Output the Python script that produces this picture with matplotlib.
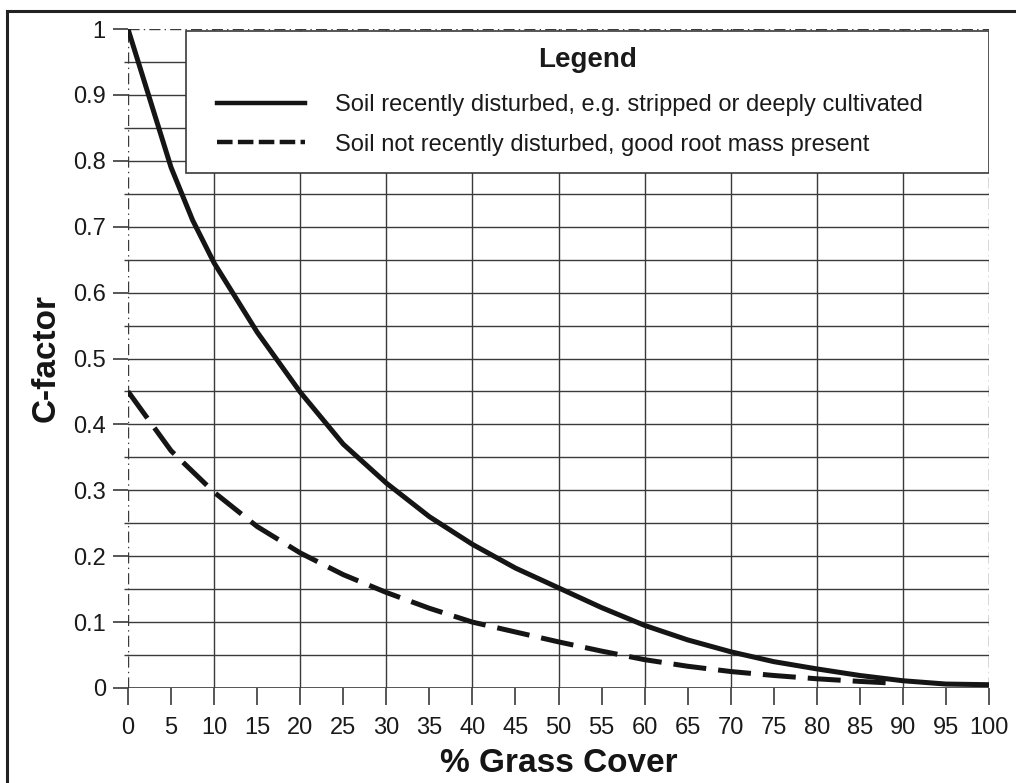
import matplotlib
matplotlib.use("Agg")
import matplotlib.pyplot as plt
from matplotlib.lines import Line2D
from matplotlib.patches import Rectangle
import numpy as np

plt.rcParams['font.family'] = ['Liberation Sans', 'DejaVu Sans']

# Data
grass_cover = [0, 2.5, 5, 7.5, 10, 15, 20, 25, 30, 35, 40, 45, 50, 55, 60, 65, 70, 75, 80, 85, 90, 95, 100]
c_disturbed = [1.0, 0.895, 0.79, 0.71, 0.645, 0.54, 0.449, 0.37, 0.311, 0.26, 0.218, 0.182, 0.152, 0.122,
               0.095, 0.073, 0.055, 0.040, 0.029, 0.019, 0.011, 0.006, 0.005]
grass_cover_nd = [0, 5, 10, 15, 20, 25, 30, 35, 40, 45, 50, 55, 60, 65, 70, 75, 80, 85, 88]
c_not_disturbed = [0.45, 0.36, 0.297, 0.245, 0.205, 0.172, 0.145, 0.121, 0.100, 0.085, 0.070,
                   0.056, 0.043, 0.033, 0.025, 0.019, 0.014, 0.010, 0.008]

x_ticks = list(range(0, 101, 5))
y_ticks = [0, 0.1, 0.2, 0.3, 0.4, 0.5, 0.6, 0.7, 0.8, 0.9, 1]
y_tick_labels = ['0', '0.1', '0.2', '0.3', '0.4', '0.5', '0.6', '0.7', '0.8', '0.9', '1']

legend_title = 'Legend'
label_disturbed = 'Soil recently disturbed, e.g. stripped or deeply cultivated'
label_not_disturbed = 'Soil not recently disturbed, good root mass present'

fig = plt.figure(figsize=(10.16, 7.83), dpi=100)
W, H = 1016, 783
ax = fig.add_axes([128 / W, 1 - 688 / H, (989 - 128) / W, (688 - 29) / H])
ax.set_xlim(0, 100)
ax.set_ylim(0, 1)

gc = '#3a3a3a'
tc = '#1a1a1a'
# grid
for yv in np.arange(0.05, 1.0, 0.05):
    ax.axhline(yv, color=gc, lw=1.0, zorder=1)
for xv in range(10, 100, 10):
    ax.axvline(xv, color=gc, lw=1.0, zorder=1)
ax.axhline(0, color=gc, lw=1.2, zorder=1)
ax.axhline(1, color=gc, lw=1.0, ls=(0, (8, 3, 1, 3)), zorder=1)
ax.axvline(0, color=gc, lw=1.0, ls=(0, (8, 3, 1, 3)), zorder=1)
ax.axvline(100, color=gc, lw=1.0, ls=(0, (8, 3, 1, 3)), zorder=1)

for s in ax.spines.values():
    s.set_visible(False)

ax.set_xticks(x_ticks)
ax.set_xticklabels([str(v) for v in x_ticks])
ax.set_yticks(y_ticks)
ax.set_yticklabels(y_tick_labels)
ax.set_yticks(np.arange(0.05, 1.0, 0.1), minor=True)
ax.tick_params(axis='x', direction='out', length=12, width=1.2, color=gc, pad=9, labelsize=17)
ax.tick_params(axis='y', which='major', direction='out', length=11, width=1.2, color=gc, pad=5, labelsize=17)
ax.tick_params(axis='y', which='minor', direction='out', length=3, width=1.0, color=gc)
for lab in ax.get_xticklabels() + ax.get_yticklabels():
    lab.set_color(tc)

ax.plot(grass_cover, c_disturbed, color='#151515', lw=3.6, solid_capstyle='butt', zorder=4)
ax.plot(grass_cover_nd, c_not_disturbed, color='#151515', lw=3.6, dashes=(6.6, 2.4), zorder=4)

# legend box
bx0, bx1 = (186 - 128) / 861, 1.0
by0, by1 = (688 - 173) / 659, (688 - 31) / 659
box = Rectangle((bx0, by0), bx1 - bx0, by1 - by0,
                transform=ax.transAxes, facecolor='white', edgecolor=gc, lw=1.2, zorder=5)
ax.add_patch(box)
ax.text((bx0 + bx1) / 2, (688 - 60) / 659, legend_title, transform=ax.transAxes,
        ha='center', va='center', fontsize=20, fontweight='bold', color=tc, zorder=7)
handles = [Line2D([], [], color='#151515', lw=3.2),
           Line2D([], [], color='#151515', lw=3.2, dashes=(3.5, 1.2))]
leg = ax.legend(handles, [label_disturbed, label_not_disturbed],
                loc='center left', bbox_to_anchor=((217 - 128) / 861, (688 - 125) / 659),
                frameon=False, fontsize=17, handlelength=3.73, handletextpad=1.27,
                labelspacing=0.72, borderpad=0, borderaxespad=0)
leg.set_zorder(6)
for t in leg.get_texts():
    t.set_color(tc)

ax.set_xlabel('% Grass Cover', fontsize=24, fontweight='bold', labelpad=6, color='#151515')
ax.set_ylabel('C-factor', fontsize=24, fontweight='bold', labelpad=8, color='#151515')

# outer frame (top and left edges visible)
fig.add_artist(Line2D([7 / W, 1.0], [1 - 11 / H, 1 - 11 / H], transform=fig.transFigure,
                      color='#222222', lw=2.2))
fig.add_artist(Line2D([7 / W, 7 / W], [1 - 11 / H, 0.0], transform=fig.transFigure,
                      color='#222222', lw=2.2))

fig.savefig('out.png', dpi=100)
